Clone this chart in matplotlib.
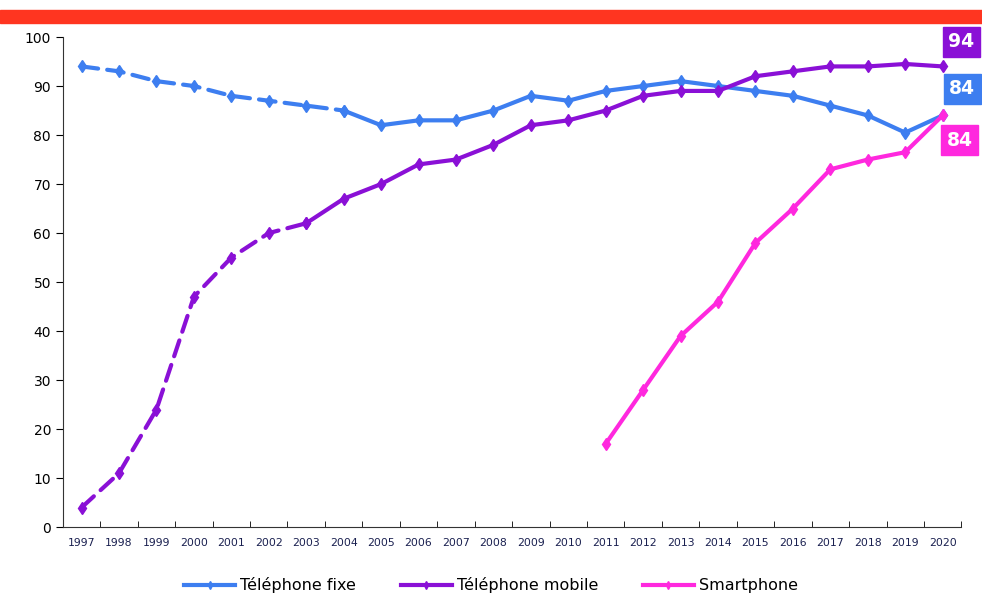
import matplotlib.pyplot as plt
from matplotlib.patches import Rectangle
from matplotlib.lines import Line2D

years = [str(y) for y in range(1997, 2021)]
fixe = [94, 93, 91, 90, 88, 87, 86, 85, 82, 83, 83, 85, 88, 87, 89, 90, 91, 90, 89, 88, 86, 84, 80.5, 84]
mobile = [4, 11, 24, 47, 55, 60, 62, 67, 70, 74, 75, 78, 82, 83, 85, 88, 89, 89, 92, 93, 94, 94, 94.5, 94]
smart_years = years[14:]
smart = [17, 28, 39, 46, 58, 65, 73, 75, 76.5, 84]

labels = ["Téléphone fixe", "Téléphone mobile", "Smartphone"]
end_labels = ["94", "84", "84"]

BLUE = "#3D7EF0"
PURPLE = "#8A10D6"
MAGENTA = "#FF28DE"

fig = plt.figure(figsize=(9.82, 5.97), dpi=100)
ax = fig.add_axes([0.064, 0.117, 0.915, 0.821])

x = list(range(len(years)))
xs = list(range(14, 24))
kw = dict(lw=3, marker="d", ms=6, solid_capstyle="round", dash_capstyle="round")

# dashed early part, solid later
ax.plot(x[:8], fixe[:8], color=BLUE, ls=(0, (4, 2.2)), **kw)
ax.plot(x[7:], fixe[7:], color=BLUE, **kw)
ax.plot(x[:7], mobile[:7], color=PURPLE, ls=(0, (4, 2.2)), **kw)
ax.plot(x[6:], mobile[6:], color=PURPLE, **kw)
ax.plot(xs, smart, color=MAGENTA, **kw)

ax.set_xlim(-0.45, 23.5)
ax.set_ylim(0, 100)
ax.set_yticks(range(0, 101, 10))
ax.set_xticks(x)
ax.set_xticklabels(years, fontsize=7.8, color="#1a2050")
ax.set_xticks([i + 0.5 for i in range(-1, 24)], minor=True)
ax.tick_params(axis="x", which="major", length=0, pad=8)
ax.tick_params(axis="x", which="minor", direction="in", length=4)
ax.tick_params(axis="y", direction="out", length=5, labelsize=10)
for s in ["top", "right"]:
    ax.spines[s].set_visible(False)
ax.spines["left"].set_color("#333333")
ax.spines["bottom"].set_color("#333333")

# red band at top
fig.patches.append(Rectangle((0, 0.962), 1, 0.022, transform=fig.transFigure,
                             color="#FF3520", zorder=0))

# end value boxes
boxes = [(PURPLE, 0.979, 0.930), (BLUE, 0.980, 0.851), (MAGENTA, 0.977, 0.765)]
for (c, bx, by), t in zip(boxes, end_labels):
    fig.text(bx, by, t, color="white", fontsize=13.5, fontweight="bold",
             ha="center", va="center",
             bbox=dict(boxstyle="square,pad=0.3", fc=c, ec=c))

handles = [Line2D([], [], color=c, lw=3, marker="d", ms=4) for c in (BLUE, PURPLE, MAGENTA)]
fig.legend(handles, labels, loc="lower center", bbox_to_anchor=(0.5, -0.018), ncol=3,
           frameon=False, fontsize=11.5, handlelength=3.2, columnspacing=2.8, handletextpad=0.3)

fig.savefig("out.png", dpi=100)
